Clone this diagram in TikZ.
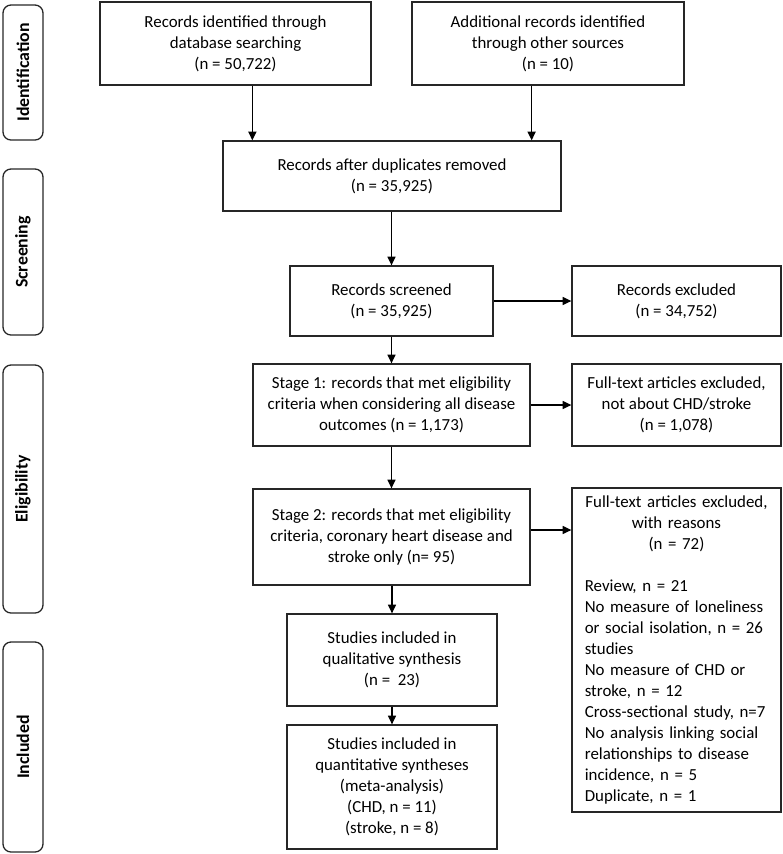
\documentclass[tikz,border=0pt]{standalone}
\usepackage{fontspec}
\setmainfont{Carlito}
\usetikzlibrary{arrows.meta}

\begin{document}
\begin{tikzpicture}[x=0.03cm,y=-0.03cm,
    box/.style={draw=black!85,line width=1.1pt,align=center,inner sep=3pt,
      font=\fontsize{14.4}{17.9}\selectfont},
    side/.style={draw=black!85,line width=1.1pt,rounded corners=0.24cm,rotate=90,
      minimum height=1.2cm,font=\fontsize{15.2}{18}\selectfont\bfseries},
    arr/.style={line width=1.1pt,-{Triangle[length=0.26cm,width=0.24cm]}}]
  \useasboundingbox (0,0) rectangle (783,854);
  % stage labels on the left
  \node[side,minimum width=4.05cm] (ident) at (23,72.5) {Identification};
  \node[side,minimum width=4.98cm] (screen) at (23,252) {Screening};
  \node[side,minimum width=7.44cm] (elig) at (23,489) {Eligibility};
  \node[side,minimum width=6.3cm] (incl) at (23,747) {Included};
  % identification
  \node[box,minimum width=8.13cm,minimum height=2.49cm] (db) at (235.5,43.5)
    {Records identified through\\ database searching\\ (n = 50,722)};
  \node[box,minimum width=8.16cm,minimum height=2.49cm] (other) at (548,43.5)
    {Additional records identified\\ through other sources\\ (n = 10)};
  \node[box,minimum width=10.14cm,minimum height=2.1cm] (dup) at (392,176)
    {Records after duplicates removed\\ (n = 35,925)};
  % screening
  \node[box,minimum width=6.09cm,minimum height=2.1cm] (screened) at (391.5,301)
    {Records screened\\ (n = 35,925)};
  \node[box,minimum width=6.27cm,minimum height=2.1cm] (excl) at (676.5,301)
    {Records excluded\\ (n = 34,752)};
  % eligibility
  \node[box,minimum width=8.31cm,minimum height=2.46cm] (stage1) at (391.5,405)
    {Stage 1: records that met eligibility\\ criteria when considering all disease\\ outcomes (n = 1,173)};
  \node[box,minimum width=6.27cm,minimum height=2.46cm] (ft1) at (676.5,405)
    {Full-text articles excluded,\\ not about CHD/stroke\\ (n = 1,078)};
  \node[box,minimum width=8.31cm,minimum height=2.88cm] (stage2) at (391.5,537)
    {Stage 2: records that met eligibility\\ criteria, coronary heart disease and\\ stroke only (n= 95)};
  \node[box,minimum width=6.27cm,minimum height=9.72cm,text width=5.5cm,align=left] (ft2) at (676.5,650)
    {{\centering Full-text articles excluded,\\ with reasons\\ (n = 72)\par}
     \vspace{17.9pt}
     Review, n = 21\\ No measure of loneliness\\ or social isolation, n = 26\\ studies\\
     No measure of CHD or\\ stroke, n = 12\\ Cross-sectional study, n=7\\
     No analysis linking social\\ relationships to disease\\ incidence, n = 5\\ Duplicate, n = 1};
  % included
  \node[box,minimum width=6.3cm,minimum height=2.76cm] (qual) at (392,660)
    {Studies included in\\ qualitative synthesis\\ (n = \ 23)};
  \node[box,minimum width=6.3cm,minimum height=3.72cm] (quant) at (392,787)
    {Studies included in\\ quantitative syntheses\\ (meta-analysis)\\ (CHD, n = 11)\\ (stroke, n = 8)};
  % connectors
  \coordinate (dupin1) at ([xshift=0.9cm]dup.north west);
  \coordinate (dupin2) at ([xshift=-0.9cm]dup.north east);
  \coordinate (st2out) at ([yshift=0.21cm]stage2.east);
  \draw[arr] (db.south -| dupin1) -- (dupin1);
  \draw[arr] (other.south -| dupin2) -- (dupin2);
  \draw[arr] (dup.south -| screened.north) -- (screened.north);
  \draw[arr] (screened) -- (excl);
  \draw[arr] (screened) -- (stage1);
  \draw[arr] (stage1) -- (ft1);
  \draw[arr] (stage1) -- (stage2);
  \draw[arr] (st2out) -- (ft2.west |- st2out);
  \draw[arr] (stage2.south -| qual.north) -- (qual.north);
  \draw[arr] (qual) -- (quant);
\end{tikzpicture}
\end{document}
